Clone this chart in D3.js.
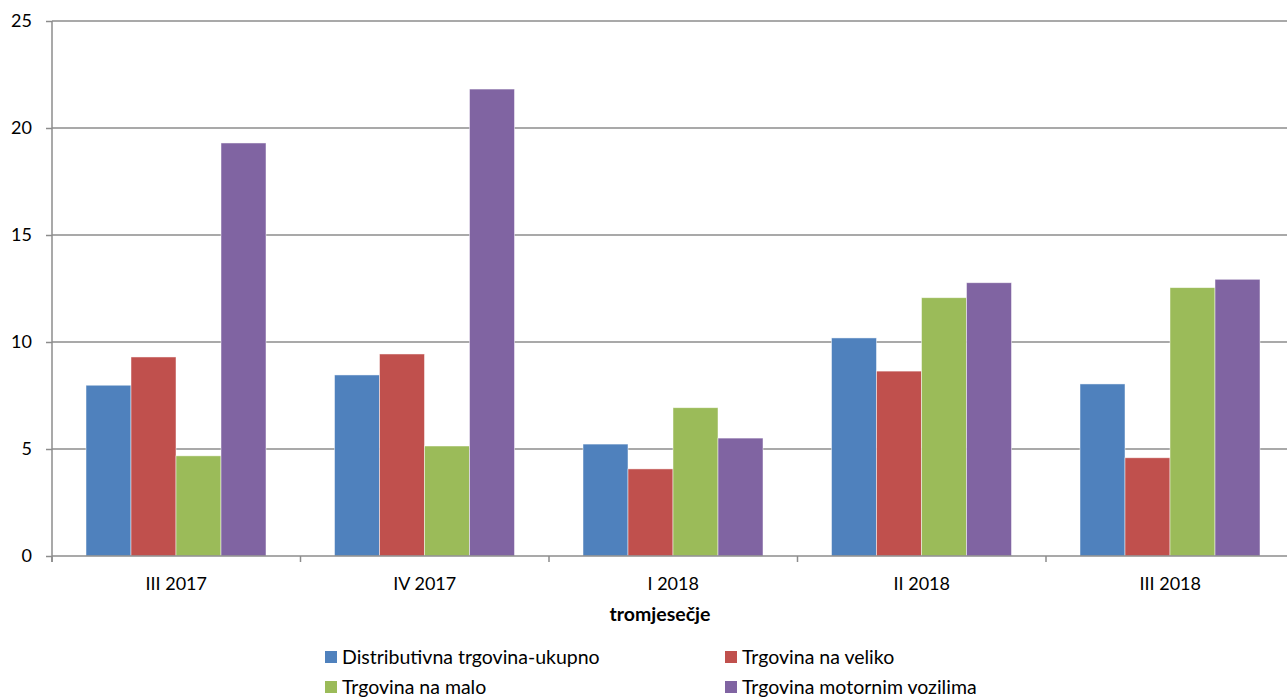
<!DOCTYPE html>
<html>
<head>
<meta charset="utf-8">
<script src="https://cdn.jsdelivr.net/npm/d3@7"></script>
<style>
  body { margin: 0; background: #fff; }
  text { font-family: Lato, "Open Sans", sans-serif; fill: #000; }
</style>
</head>
<body>
<svg></svg>
<script>
const width = 1287;
const height = 697;

const categories = ['III 2017', 'IV 2017', 'I 2018', 'II 2018', 'III 2018'];
const seriesNames = ['Distributivna trgovina-ukupno', 'Trgovina na veliko', 'Trgovina na malo', 'Trgovina motornim vozilima'];
const colors = ['#4f81bd', '#c0504d', '#9bbb59', '#8064a2'];

const ukupno = [7.98, 8.46, 5.23, 10.19, 8.04];
const veliko = [9.3, 9.44, 4.07, 8.64, 4.59];
const malo = [4.68, 5.14, 6.93, 12.07, 12.54];
const vozila = [19.3, 21.82, 5.51, 12.77, 12.93];
const yTicks = [0, 5, 10, 15, 20, 25];

const values = [ukupno, veliko, malo, vozila];

const plotLeft = 52, plotRight = 1294.5, plotTop = 21, plotBottom = 556;

let svg = d3.select('svg')
            .attr('width', width)
            .attr('height', height);

let xScale = d3.scaleBand()
               .domain(categories)
               .range([plotLeft, plotRight])
               .padding(0);

let inner = d3.scaleBand()
              .domain(d3.range(seriesNames.length))
              .range([34, xScale.bandwidth() - 34.5])
              .padding(0);

let yScale = d3.scaleLinear()
               .domain([0, 25])
               .range([plotBottom, plotTop]);

// gridlines
svg.append('g')
  .selectAll('line')
  .data(yTicks.slice(1))
  .enter()
  .append('line')
    .attr('x1', plotLeft)
    .attr('x2', width)
    .attr('y1', d => yScale(d))
    .attr('y2', d => yScale(d))
    .attr('stroke', '#8c8c8c')
    .attr('stroke-width', 1.5);

// bars
values.forEach((vals, s) => {
  svg.append('g')
    .selectAll('rect')
    .data(vals)
    .enter()
    .append('rect')
      .attr('x', (d, i) => xScale(categories[i]) + inner(s))
      .attr('y', d => yScale(d))
      .attr('width', inner.bandwidth())
      .attr('height', d => yScale(0) - yScale(d))
      .attr('fill', colors[s])
      .attr('stroke', 'rgba(255,255,255,0.6)')
      .attr('stroke-width', 0.8);
});

// Y - Axis
let yAxis = svg.append('g')
  .attr('transform', 'translate(' + plotLeft + ',0)')
  .call(d3.axisLeft(yScale).tickValues(yTicks).tickSize(6).tickPadding(14));
yAxis.select('.domain').attr('stroke', '#8c8c8c').attr('stroke-width', 1.5).attr('d', 'M0,' + plotTop + 'V' + (plotBottom + 6));
yAxis.selectAll('.tick line').attr('stroke', '#8c8c8c').attr('stroke-width', 1.5);
yAxis.selectAll('.tick text').style('font-size', '18px').attr('fill', '#000');

// X - Axis
let xAxis = svg.append('g')
  .attr('transform', 'translate(0,' + plotBottom + ')');
xAxis.append('line')
  .attr('x1', plotLeft).attr('x2', width)
  .attr('stroke', '#8c8c8c').attr('stroke-width', 1.5);
xAxis.selectAll('.sep')
  .data(categories)
  .enter()
  .append('line')
    .attr('class', 'sep')
    .attr('x1', d => xScale(d))
    .attr('x2', d => xScale(d))
    .attr('y1', 0).attr('y2', 6)
    .attr('stroke', '#8c8c8c').attr('stroke-width', 1.5);
xAxis.selectAll('text')
  .data(categories)
  .enter()
  .append('text')
    .text(d => d)
    .attr('x', d => xScale(d) + xScale.bandwidth() / 2)
    .attr('y', 34)
    .style('text-anchor', 'middle')
    .style('font-size', '18px');

svg.append('text')
  .text('tromjesečje')
  .attr('x', 660)
  .attr('y', 621)
  .style('text-anchor', 'middle')
  .style('font-size', '19.5px')
  .style('font-weight', 'bold');

// Legend
const legendPos = [[325, 657], [725, 657], [325, 687], [725, 687]];
let legend = svg.append('g')
  .selectAll('g')
  .data(seriesNames)
  .enter()
  .append('g')
    .attr('transform', (d, i) => 'translate(' + legendPos[i][0] + ',' + legendPos[i][1] + ')');
legend.append('rect')
  .attr('x', 0).attr('y', -6)
  .attr('width', 12).attr('height', 12)
  .attr('fill', (d, i) => colors[i]);
legend.append('text')
  .text(d => d)
  .attr('x', 17)
  .attr('y', 7)
  .style('font-size', '19.5px');
</script>
</body>
</html>
